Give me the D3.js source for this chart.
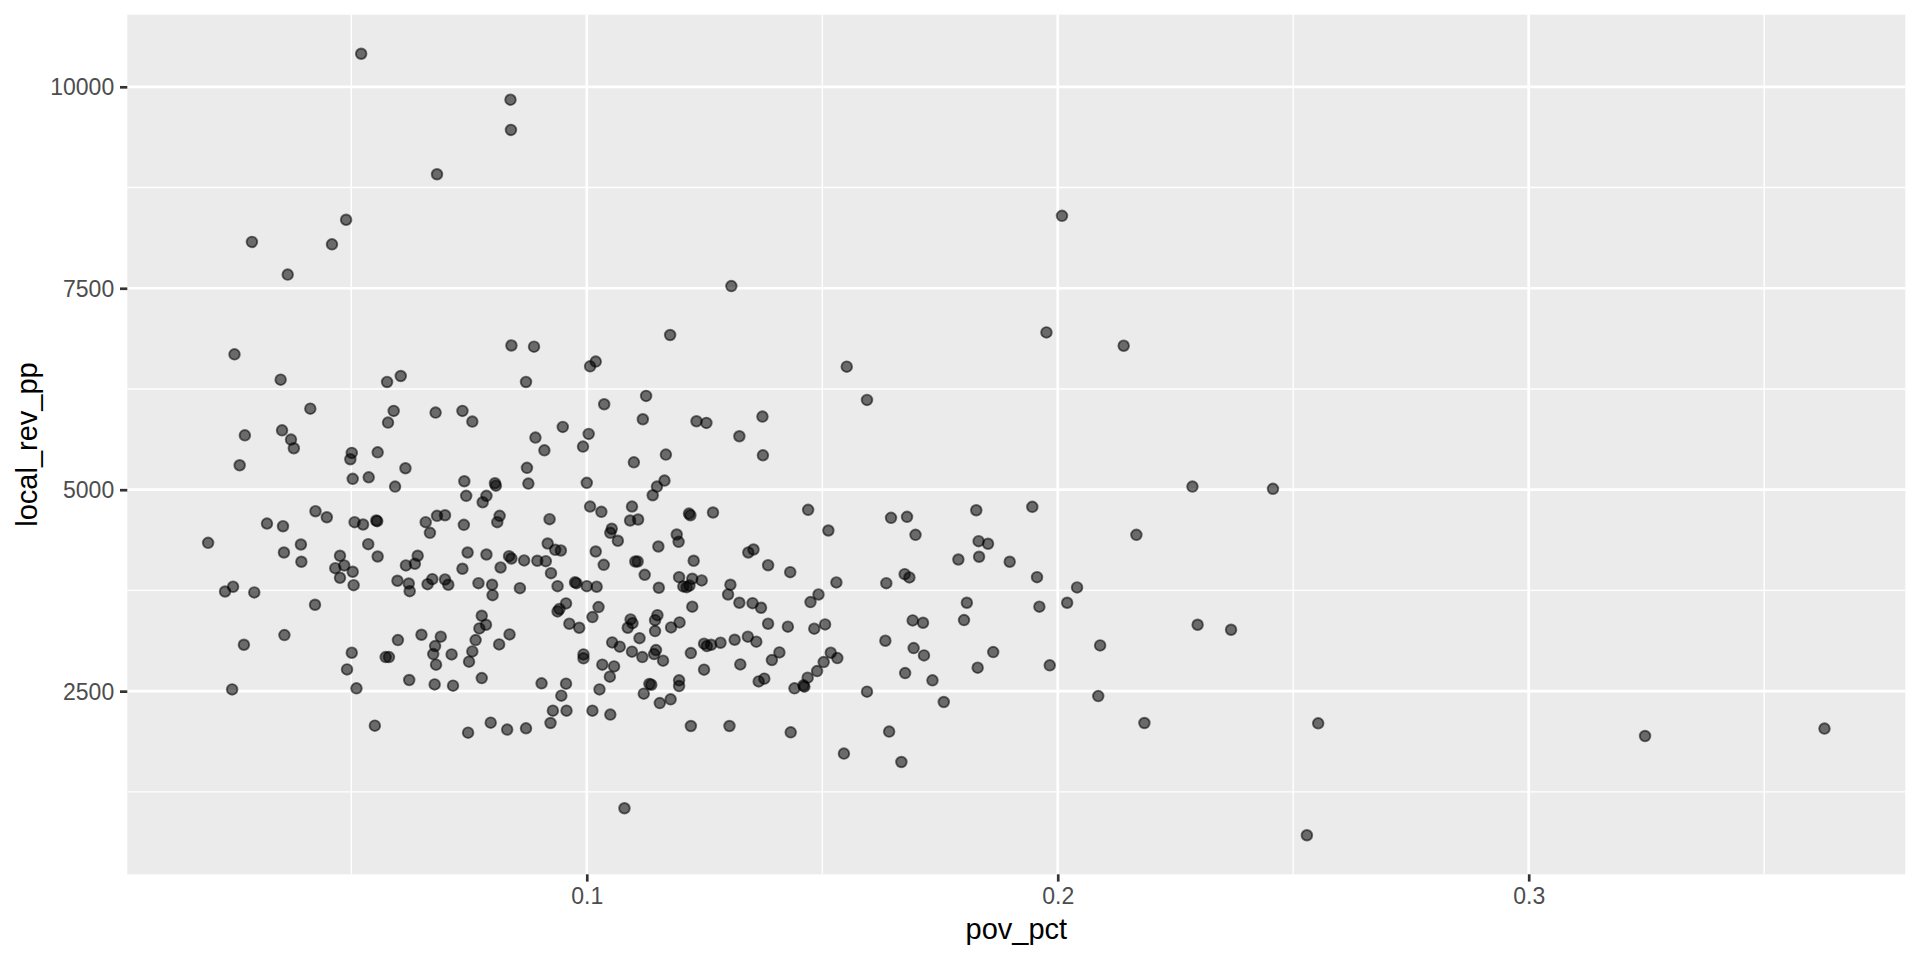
<!DOCTYPE html>
<html>
<head>
<meta charset="utf-8">
<script src="https://cdn.jsdelivr.net/npm/d3@7/dist/d3.min.js"></script>
<style>
  html, body { margin: 0; padding: 0; background: #ffffff; }
  svg { display: block; }
</style>
</head>
<body>
<svg id="chart" width="1920" height="960"></svg>
<script>
// ---------------- data ----------------
const pov_pct = [
  // upper outliers
  0.0521,0.0838,0.0839,0.0682,0.0489,0.0289,0.0459,0.0365,0.0252,0.0840,0.0888,0.1019,0.1177,
  // left cluster, upper half
  0.0350,0.0576,0.0605,0.0871,0.0413,0.0590,0.0578,0.0679,0.0736,0.0757,
  0.0274,0.0353,0.0372,0.0378,0.0263,0.0501,0.0498,0.0556,0.0615,0.0503,0.0537,0.0593,0.0740,
  0.0805,0.0807,0.0873,0.0876,0.0744,0.0787,0.0779,
  0.0424,0.0448,0.0321,0.0355,0.0507,0.0525,0.0553,0.0555,
  0.0658,0.0667,0.0682,0.0699,0.0739,0.0815,0.0810,0.0196,0.0357,0.0393,0.0394,0.0476,0.0466,0.0485,0.0476,0.0503,
  0.0505,0.0536,0.0556,0.0598,0.0616,0.0635,0.0641,0.0622,0.0662,0.0672,0.0699,0.0706,0.0736,0.0747,0.0787,0.0817,
  0.0835,0.0840,0.0867,0.0770,0.0799,0.0858,
  // left cluster, lower half
  0.0232,0.0249,0.0294,0.0624,0.0800,0.0423,0.0358,0.0272,0.0247,0.0501,0.0491,0.0511,0.0550,0.0573,0.0580,
  0.0599,0.0623,0.0649,0.0690,0.0678,0.0674,0.0680,0.0713,0.0677,0.0716,
  0.0777,0.0786,0.0772,0.0764,0.0757,0.0750,0.0777,0.0814,0.0836,0.0748,0.0796,0.0831,0.0871,
  // middle cluster, upper half
  0.1007,0.1552,0.1595,0.1126,0.1037,0.1119,0.1233,0.1254,0.1373,0.1324,0.1374,0.0949,0.0891,0.0910,0.1004,0.0992,
  0.1000,0.1100,0.1168,0.1165,0.1149,0.1140,0.1007,0.1031,0.1096,0.1092,0.1109,0.0921,0.1217,0.1220,0.1268,0.1470,
  0.1513,0.1053,0.1050,0.1066,0.1191,0.1195,0.0917,0.0933,0.0945,0.1019,0.1152,0.1343,0.1354,0.0895,0.0913,0.1036,
  0.1103,0.1108,0.1227,0.1385,0.1432,0.0924,0.1123,0.0975,0.0978,0.0938,0.1000,0.1021,0.1153,0.1196,0.1224,0.1244,
  0.1205,0.1212,0.1218,0.1305,0.1530,
  // middle cluster, lower half
  0.1300,0.1324,0.1352,0.1370,0.1475,0.1492,0.0956,0.0938,0.0942,0.1025,0.1012,0.0963,0.0984,0.1224,0.1093,0.1097,
  0.1087,0.1150,0.1145,0.1145,0.1179,0.1197,0.1385,0.1427,0.1483,0.1506,0.1054,0.1070,0.1112,0.1096,0.1118,0.1147,
  0.1143,0.1162,0.0993,0.0993,0.1033,0.1058,0.1049,0.1027,0.0904,0.0956,0.0946,0.0928,0.0957,0.1012,0.1050,0.0923,
  0.1133,0.1137,0.1121,0.1155,0.1178,0.1196,0.1196,0.1221,0.1249,0.1255,0.1264,0.1249,0.1284,0.1314,0.1342,0.1360,
  0.1326,0.1409,0.1393,0.1365,0.1377,0.1441,0.1460,0.1462,0.1469,0.1489,0.1503,0.1518,0.1532,0.1595,0.1221,0.1303,
  0.1433,0.1546,0.1080,
  // right of 0.16, upper
  0.2286,0.2457,0.1646,0.1680,0.1698,0.1827,0.1946,0.1832,0.1852,0.1789,0.1833,0.1898,0.1956,0.2167,0.1636,0.1675,
  0.1685,0.2041,
  // right of 0.16, lower
  0.1807,0.2020,0.1961,0.1692,0.1714,0.1801,0.1634,0.1694,0.1716,0.1676,0.1734,0.1863,0.1830,0.1983,0.2090,0.2297,
  0.2368,0.1758,0.2086,0.2184,0.1642,0.1668,0.2529,
  // upper right outliers
  0.2009,0.1307,0.1976,0.2140,
  // far right
  0.2553,0.3247,0.3628
];

const local_rev_pp = [
  10410,9840,9465,8915,8350,8075,8045,7670,6680,6790,6775,6590,6920,
  6366,6337,6411,6337,6006,5978,5833,5957,5978,5845,
  5675,5737,5622,5514,5303,5457,5378,5464,5266,5135,5154,5039,5105,
  5080,5050,5271,5076,4924,4924,4844,
  4733,4658,4580,4547,4597,4568,4618,4610,
  4597,4465,4676,4683,4564,4676,4597,4341,4221,4320,4106,4180,4026,4060,3907,3982,
  3815,4324,4171,3870,4060,4081,4180,3836,3828,3890,3886,3820,4019,4221,4196,4035,
  4175,4146,4122,3840,3820,3778,
  3737,3796,3725,3741,3691,3572,3196,3076,2522,2977,2770,2535,2072,2923,2923,
  3134,2638,3200,3176,3059,2960,2829,2956,2584,2568,
  3436,3324,3279,3134,2993,2866,2662,3080,3204,1985,2109,2023,2039,
  6531,6527,6114,6164,6060,5874,5849,5829,5907,5663,5427,5779,5647,5489,5692,5535,
  5085,5340,5436,5113,5039,4931,4791,4725,4791,4618,4630,4634,4704,4683,4717,4750,
  4494,4515,4465,4366,4444,4353,4332,4254,4246,4233,4295,4221,4258,4118,4113,4068,
  4109,4109,4118,4063,3977,3964,3944,3850,3840,3803,3803,3796,3783,3915,3895,3874,
  3800,3790,3810,3820,3849,
  3700,3597,3592,3535,3605,3700,3589,3490,3520,3543,3419,3337,3287,3548,3390,3344,
  3287,3443,3381,3245,3291,3353,3337,3300,3275,3328,3105,3052,3158,2990,2923,3010,
  2960,2878,2956,2907,2829,2807,2680,2522,2597,2593,2444,2258,2258,2258,2209,2105,
  2590,2580,2469,2352,2398,2634,2563,2972,3089,3059,3076,2767,3101,3138,3176,3114,
  2832,2981,2886,2621,2655,2535,2572,2556,2667,2749,2861,2977,2910,2494,2067,2067,
  1989,1725,1047,
  5039,5011,4651,4663,4440,4745,4787,4361,4329,4134,4168,4106,3915,4440,3840,3952,
  3911,3787,
  3597,3597,3548,3378,3349,3382,3126,3034,2944,2724,2634,2985,2791,2820,3068,3324,
  3262,2365,2439,2105,1998,1621,712,
  8399,7527,6952,6787,
  2101,1943,2035
];

const xMajorTicks = [0.1, 0.2, 0.3];
const xMinorTicks = [0.05, 0.15, 0.25, 0.35];
const yMajorTicks = [2500, 5000, 7500, 10000];
const yMinorTicks = [1250, 3750, 6250, 8750];
const xTitle = "pov_pct";
const yTitle = "local_rev_pp";

// ---------------- layout ----------------
const panel = { left: 127.3, right: 1905.3, top: 14.7, bottom: 874.3 };
const FONT = "'Liberation Sans', Arial, Helvetica, sans-serif";

const points = pov_pct.map((p, i) => ({ x: p, y: local_rev_pp[i] }));

function expanded(ext) {
  const r = ext[1] - ext[0];
  return [ext[0] - 0.05 * r, ext[1] + 0.05 * r];
}

const x = d3.scaleLinear()
  .domain(expanded(d3.extent(pov_pct)))
  .range([panel.left, panel.right]);
const y = d3.scaleLinear()
  .domain(expanded(d3.extent(local_rev_pp)))
  .range([panel.bottom, panel.top]);

const svg = d3.select("#chart");

// panel background
svg.append("rect")
  .attr("x", panel.left).attr("y", panel.top)
  .attr("width", panel.right - panel.left)
  .attr("height", panel.bottom - panel.top)
  .attr("fill", "#EBEBEB");

const grid = svg.append("g");
// minor grid
grid.selectAll("line.xmin").data(xMinorTicks.filter(v => x(v) >= panel.left && x(v) <= panel.right))
  .join("line").attr("class", "xmin")
  .attr("x1", d => x(d)).attr("x2", d => x(d))
  .attr("y1", panel.top).attr("y2", panel.bottom)
  .attr("stroke", "#FFFFFF").attr("stroke-width", 1.35);
grid.selectAll("line.ymin").data(yMinorTicks.filter(v => y(v) >= panel.top && y(v) <= panel.bottom))
  .join("line").attr("class", "ymin")
  .attr("x1", panel.left).attr("x2", panel.right)
  .attr("y1", d => y(d)).attr("y2", d => y(d))
  .attr("stroke", "#FFFFFF").attr("stroke-width", 1.35);
// major grid
grid.selectAll("line.xmaj").data(xMajorTicks)
  .join("line").attr("class", "xmaj")
  .attr("x1", d => x(d)).attr("x2", d => x(d))
  .attr("y1", panel.top).attr("y2", panel.bottom)
  .attr("stroke", "#FFFFFF").attr("stroke-width", 2.7);
grid.selectAll("line.ymaj").data(yMajorTicks)
  .join("line").attr("class", "ymaj")
  .attr("x1", panel.left).attr("x2", panel.right)
  .attr("y1", d => y(d)).attr("y2", d => y(d))
  .attr("stroke", "#FFFFFF").attr("stroke-width", 2.7);

// points
svg.append("g").selectAll("circle").data(points)
  .join("circle")
  .attr("cx", d => x(d.x))
  .attr("cy", d => y(d.y))
  .attr("r", 5.3)
  .attr("fill", "#000000").attr("fill-opacity", 0.55)
  .attr("stroke", "#000000").attr("stroke-opacity", 0.55)
  .attr("stroke-width", 1.9);

// axes
const xAxis = d3.axisBottom(x).tickValues(xMajorTicks)
  .tickSize(7.3).tickPadding(5.8).tickFormat(d3.format(".1f"));
const gx = svg.append("g")
  .attr("transform", `translate(0,${panel.bottom})`)
  .call(xAxis);
gx.select(".domain").remove();
gx.selectAll(".tick line").attr("stroke", "#333333").attr("stroke-width", 2.7);
gx.selectAll(".tick text")
  .attr("fill", "#4D4D4D").attr("font-family", FONT).attr("font-size", 23)
  .attr("dy", "0.71em");

const yAxis = d3.axisLeft(y).tickValues(yMajorTicks)
  .tickSize(7.3).tickPadding(5.8).tickFormat(d3.format("d"));
const gy = svg.append("g")
  .attr("transform", `translate(${panel.left},0)`)
  .call(yAxis);
gy.select(".domain").remove();
gy.selectAll(".tick line").attr("stroke", "#333333").attr("stroke-width", 2.7);
gy.selectAll(".tick text")
  .attr("fill", "#4D4D4D").attr("font-family", FONT).attr("font-size", 23)
  .attr("dy", "0.35em");

// axis titles
svg.append("text")
  .attr("x", (panel.left + panel.right) / 2)
  .attr("y", 939)
  .attr("text-anchor", "middle")
  .attr("font-family", FONT).attr("font-size", 29)
  .attr("fill", "#000000")
  .text(xTitle);

svg.append("text")
  .attr("transform", `translate(37,${(panel.top + panel.bottom) / 2}) rotate(-90)`)
  .attr("text-anchor", "middle")
  .attr("font-family", FONT).attr("font-size", 29)
  .attr("fill", "#000000")
  .text(yTitle);
</script>
</body>
</html>
